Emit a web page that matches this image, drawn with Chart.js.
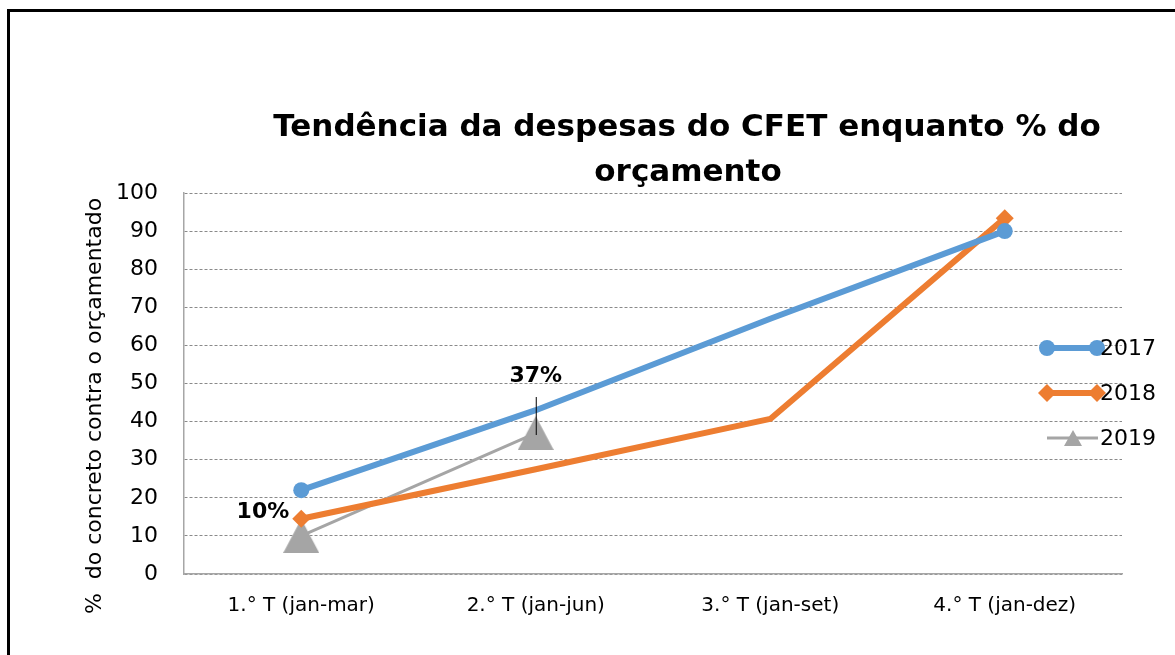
<!DOCTYPE html>
<html>
<head>
<meta charset="utf-8">
<script src="https://cdn.jsdelivr.net/npm/chart.js@4/dist/chart.umd.min.js"></script>
<style>
  body { margin: 0; background: #fff; }
  #moldura { position: absolute; left: 7px; top: 9px; width: 1300px; height: 800px;
             border-top: 3px solid #000; border-left: 3px solid #000; }
  #grafico { position: absolute; left: 0; top: 0; }
</style>
</head>
<body>
<div id="moldura"></div>
<canvas id="grafico" width="1175" height="655"></canvas>
<script>
// dados do gráfico
const categorias = ['1.° T (jan-mar)', '2.° T (jan-jun)', '3.° T (jan-set)', '4.° T (jan-dez)'];
const anos = ['2017', '2018', '2019'];
const serie2017 = [22, 43, 67, 90];
const serie2018 = [14.5, 27.5, 40.7, 93.4];
const serie2019 = [10, 37, null, null];
const rotulos2019 = ['10%', '37%'];
const tituloLinhas = ['Tendência da despesas do CFET enquanto % do', 'orçamento'];
const tituloEixoY = '%  do concreto contra o orçamentado';

const AZUL = '#5B9BD5';
const LARANJA = '#ED7D31';
const CINZA = '#A5A5A5';
const FONTE = '"DejaVu Sans", sans-serif';

// triângulo centrado pela caixa (como no Excel)
function triangulo(w, h, cor) {
    const c = document.createElement('canvas');
    c.width = w; c.height = h;
    const g = c.getContext('2d');
    g.fillStyle = cor;
    g.beginPath();
    g.moveTo(w / 2, 0);
    g.lineTo(w, h);
    g.lineTo(0, h);
    g.closePath();
    g.fill();
    return c;
}
const trianguloGrande = triangulo(36, 34, CINZA);
const trianguloLegenda = triangulo(18, 16, CINZA);

// textos e legenda desenhados à mão
const extras = {
    id: 'extras',
    afterDatasetsDraw(chart) {
        const ctx = chart.ctx;
        const pts = chart.getDatasetMeta(2).data;
        ctx.save();
        ctx.fillStyle = '#000';
        ctx.font = 'bold 22px ' + FONTE;
        ctx.textBaseline = 'middle';
        // 10%
        ctx.textAlign = 'right';
        ctx.fillText(rotulos2019[0], pts[0].x - 12, pts[0].y - 24);
        // 37% com linha de chamada
        ctx.textAlign = 'center';
        ctx.fillText(rotulos2019[1], pts[1].x, pts[1].y - 57);
        ctx.strokeStyle = '#000';
        ctx.lineWidth = 1;
        ctx.beginPath();
        ctx.moveTo(pts[1].x + 0.5, pts[1].y - 36);
        ctx.lineTo(pts[1].x + 0.5, pts[1].y + 2);
        ctx.stroke();
        ctx.restore();
    },
    afterDraw(chart) {
        const ctx = chart.ctx;
        ctx.save();
        // título
        ctx.fillStyle = '#000';
        ctx.font = 'bold 31px ' + FONTE;
        ctx.textAlign = 'center';
        ctx.textBaseline = 'middle';
        ctx.fillText(tituloLinhas[0], 687, 128);
        ctx.fillText(tituloLinhas[1], 688, 173);

        // título do eixo y
        ctx.save();
        ctx.translate(95, 406);
        ctx.rotate(-Math.PI / 2);
        ctx.font = '22px ' + FONTE;
        ctx.fillText(tituloEixoY, 0, 0);
        ctx.restore();

        // legenda
        const ys = [348, 393, 438];
        chart.data.datasets.forEach((ds, i) => {
            const y = ys[i];
            ctx.strokeStyle = ds.borderColor;
            ctx.fillStyle = ds.borderColor;
            ctx.lineWidth = ds.borderWidth;
            ctx.beginPath();
            ctx.moveTo(1047, y);
            ctx.lineTo(1098, y);
            ctx.stroke();
            if (i < 2) {
                const opt = { pointStyle: ds.pointStyle, rotation: 0, borderWidth: 0, radius: i === 0 ? 8 : 9 };
                Chart.helpers.drawPoint(ctx, opt, 1047, y);
                Chart.helpers.drawPoint(ctx, opt, 1097, y);
            } else {
                ctx.drawImage(trianguloLegenda, 1073 - 9, y - 8);
            }
            ctx.fillStyle = '#000';
            ctx.font = '22px ' + FONTE;
            ctx.textAlign = 'left';
            ctx.textBaseline = 'middle';
            ctx.fillText(ds.label, 1100, y + 1);
        });
        ctx.restore();
    }
};

new Chart(document.getElementById('grafico').getContext('2d'), {
    type: 'line',
    data: {
        labels: categorias,
        datasets: [
            {
                label: anos[0], data: serie2017,
                borderColor: AZUL, backgroundColor: AZUL, borderWidth: 6,
                pointStyle: 'circle', pointRadius: [8, 0, 0, 8], pointBorderWidth: 0,
            },
            {
                label: anos[1], data: serie2018,
                borderColor: LARANJA, backgroundColor: LARANJA, borderWidth: 6,
                pointStyle: 'rectRot', pointRadius: [9, 0, 0, 9], pointBorderWidth: 0,
            },
            {
                label: anos[2], data: serie2019,
                borderColor: CINZA, backgroundColor: CINZA, borderWidth: 3,
                pointStyle: trianguloGrande, pointRadius: 18, pointBorderWidth: 0,
            },
        ],
    },
    options: {
        responsive: false,
        animation: false,
        devicePixelRatio: 1,
        layout: { padding: { left: 0, right: 53, top: 193, bottom: 0 } },
        plugins: { legend: { display: false }, tooltip: { enabled: false } },
        elements: { line: { tension: 0, borderJoinStyle: 'round', borderCapStyle: 'round' } },
        scales: {
            x: {
                offset: true,
                grid: { display: false, drawTicks: false },
                border: { display: true, color: '#a6a6a6', width: 1.5 },
                ticks: { color: '#000', font: { family: FONTE, size: 20 }, padding: 20, maxRotation: 0 },
                afterFit(scale) { scale.height = 81; },
            },
            y: {
                min: 0, max: 100,
                grid: { color: '#8a8a8a', lineWidth: 1, drawTicks: false },
                border: { display: true, color: '#a6a6a6', width: 1.5, dash: [3, 2] },
                ticks: { stepSize: 10, color: '#000', font: { family: FONTE, size: 22 }, padding: 26 },
                afterFit(scale) { scale.width = 184; },
            },
        },
    },
    plugins: [extras],
});
</script>
</body>
</html>
